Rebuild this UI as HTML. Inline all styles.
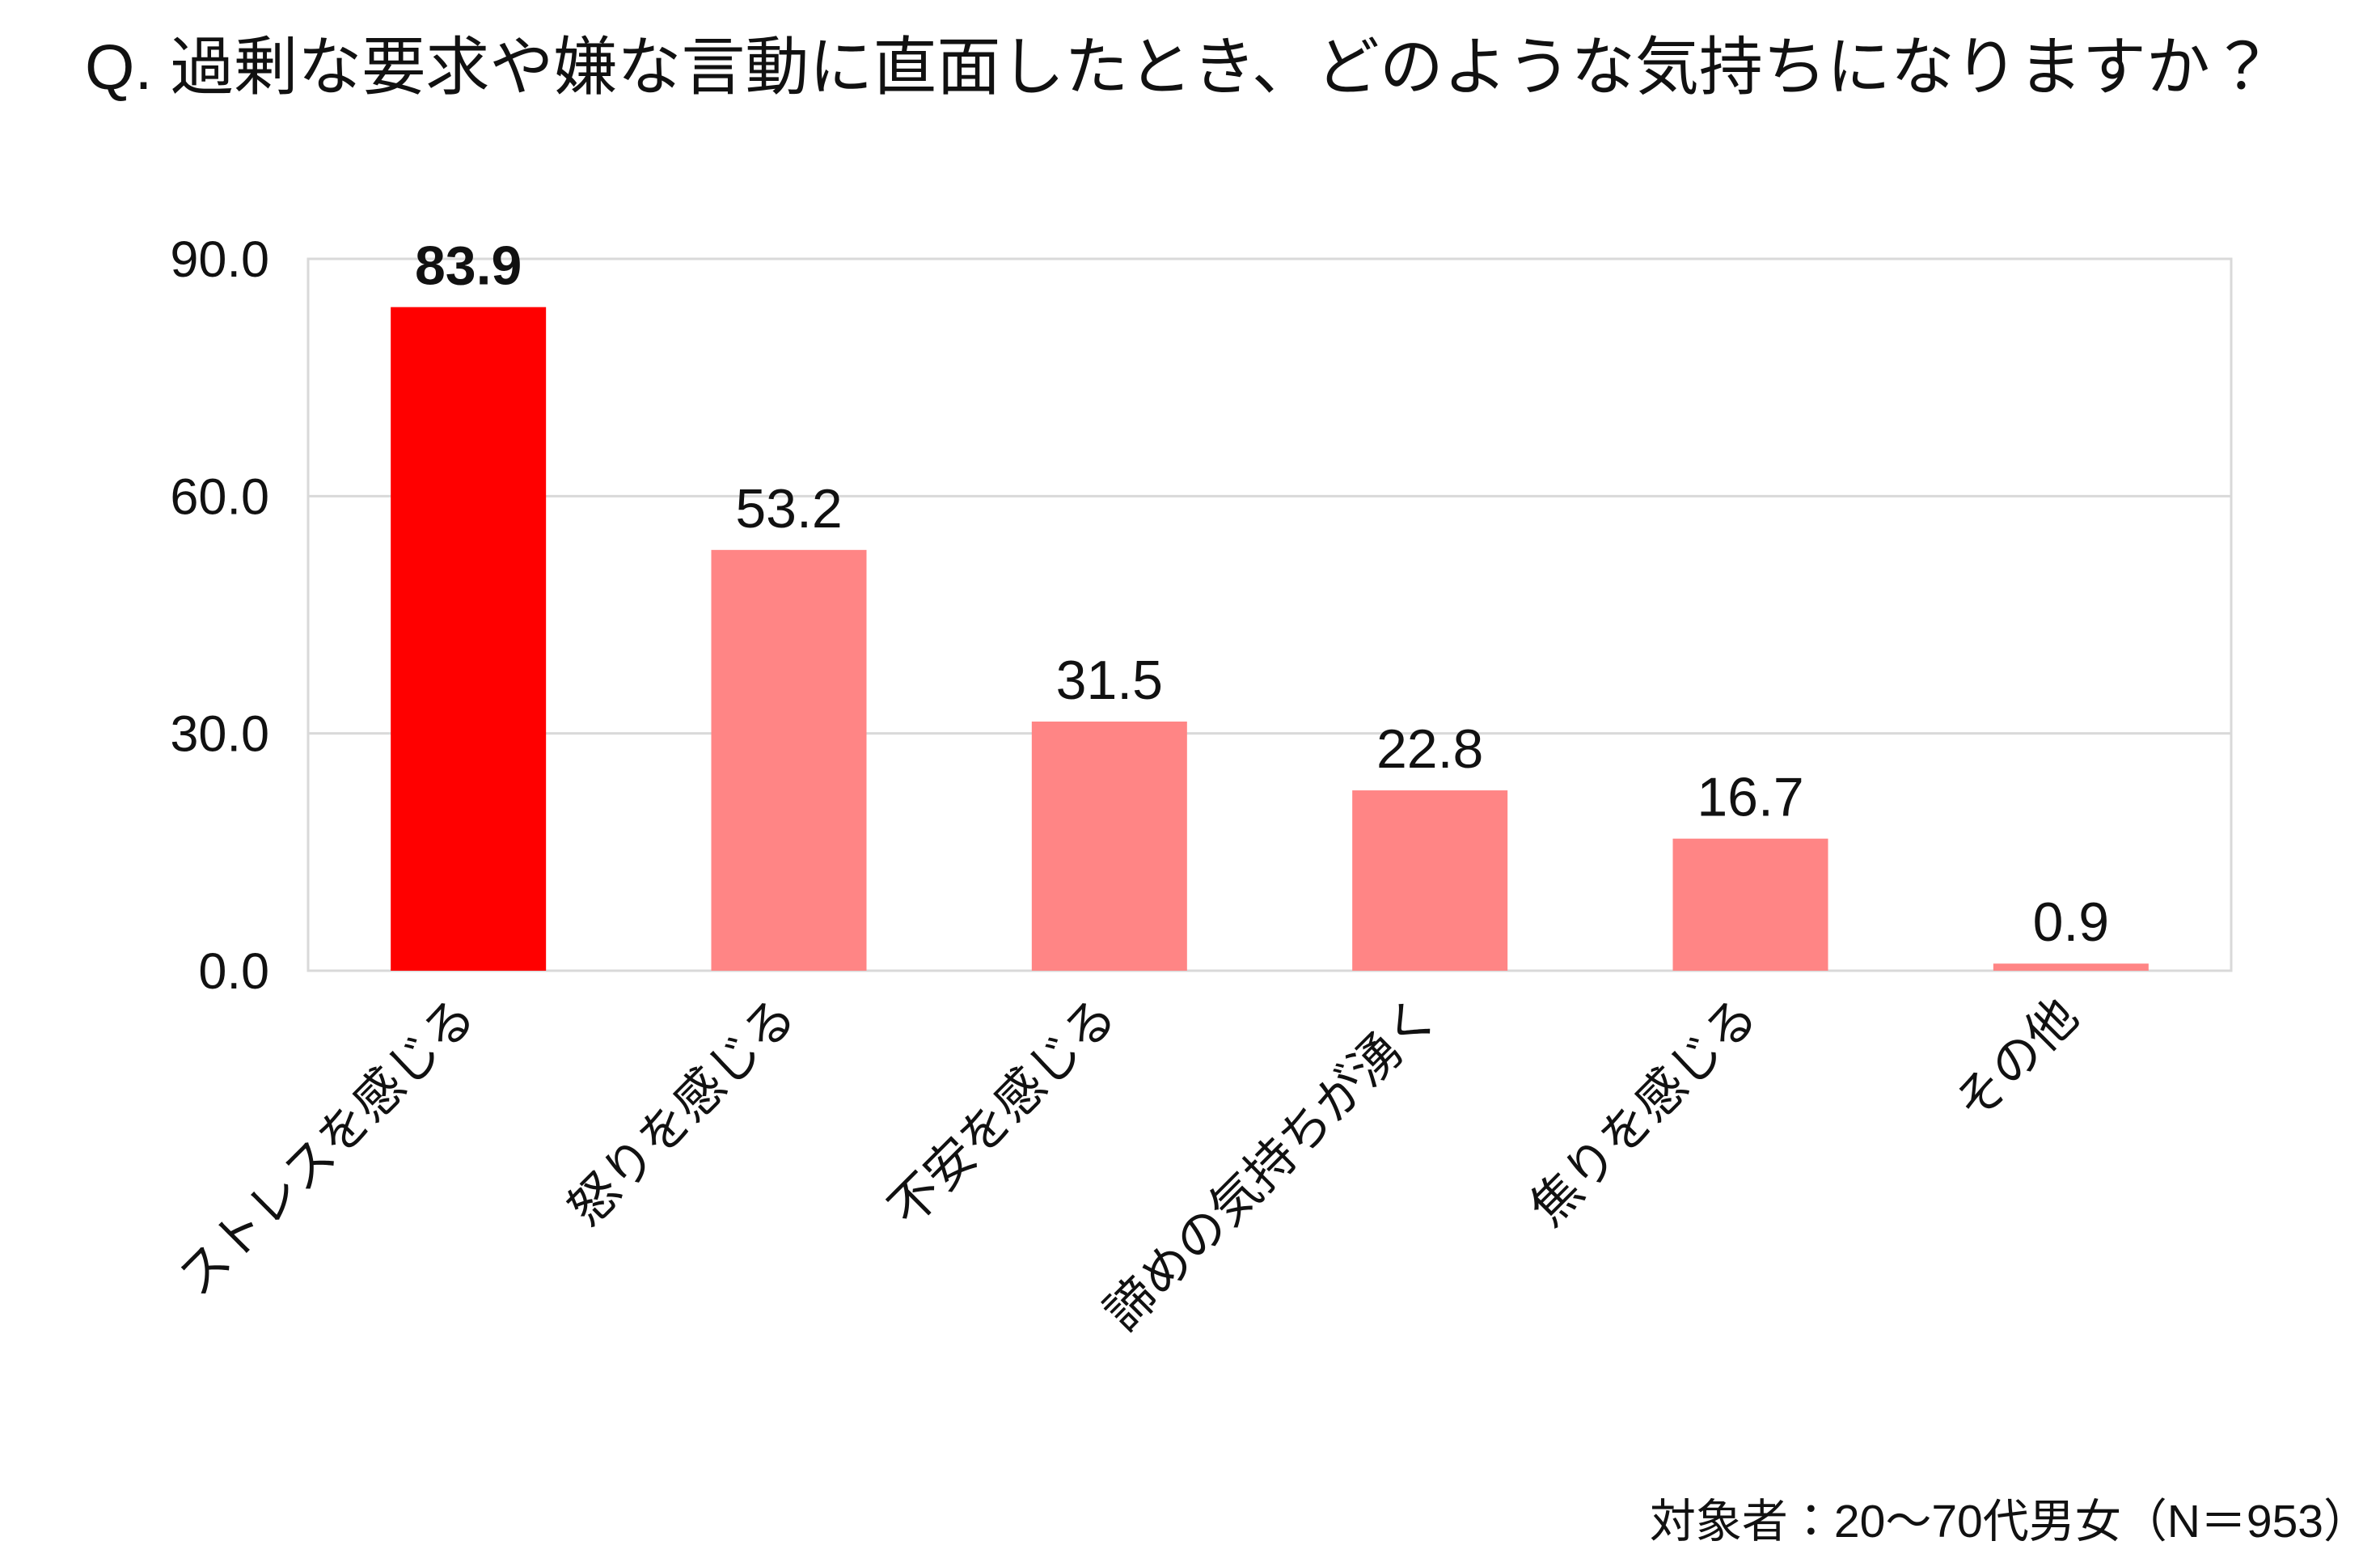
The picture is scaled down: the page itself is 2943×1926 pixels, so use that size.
<!DOCTYPE html>
<html><head><meta charset="utf-8">
<style>
html,body{margin:0;padding:0;background:#fff;}
svg{display:block;font-family:"Liberation Sans","Noto Sans CJK JP",sans-serif;}
</style></head>
<body>
<svg width="2943" height="1926" viewBox="0 0 2943 1926" xmlns="http://www.w3.org/2000/svg">
<text x="105" y="110" font-size="79" fill="#111">Q. 過剰な要求や嫌な言動に直面したとき、どのような気持ちになりますか？</text>
<g id="grid"></g>
<g id="bars"></g>
<g id="labels"></g>
<text x="2930" y="1900" font-size="57" text-anchor="end" fill="#111">対象者：20～70代男女（N＝953）</text>
</svg>
<script>
const categories = ["ストレスを感じる","怒りを感じる","不安を感じる","諦めの気持ちが湧く","焦りを感じる","その他"];
const values = [83.9, 53.2, 31.5, 22.8, 16.7, 0.9];
const ticks = [0, 30, 60, 90];
const NS = "http://www.w3.org/2000/svg";
const L = 381, R = 2759, Y0 = 1200, Y90 = 320, MAX = 90;
const y = v => Y0 - (v / MAX) * (Y0 - Y90);
const step = (R - L) / categories.length;
const xc = i => L + step * (i + 0.5);
const bw = 192;
function mk(tag, attrs, parent) { const e = document.createElementNS(NS, tag); for (const k in attrs) e.setAttribute(k, attrs[k]); parent.appendChild(e); return e; }
const grid = document.getElementById("grid"), bars = document.getElementById("bars"), labels = document.getElementById("labels");
const frame = mk("rect", {x: L, y: Y90, width: R - L, height: Y0 - Y90, fill: "none", stroke: "#d9d9d9", "stroke-width": 3}, grid);


ticks.forEach(t => {
  const ln = mk("line", {x1: L, x2: R, y1: y(t), y2: y(t), stroke: "#d9d9d9", "stroke-width": 3}, grid);
  
  
  const tx = mk("text", {x: L - 48, y: y(t) + 22, "font-size": 63, "text-anchor": "end", fill: "#111"}, labels);
  tx.textContent = t.toFixed(1);
  
  
});
categories.forEach((c, i) => {
  const v = values[i];
  const r = mk("rect", {x: xc(i) - bw / 2, y: y(v), width: bw, height: Y0 - y(v), fill: i === 0 ? "#ff0000" : "#ff8585"}, bars);
  
  
  const vt = mk("text", {x: xc(i), y: y(v) - 28, "font-size": 68, "text-anchor": "middle", fill: "#111", "font-weight": i === 0 ? "bold" : "normal"}, labels);
  vt.textContent = v.toFixed(1);
  
  
  const cx = xc(i) + 12, cy = 1260;
  const ct = mk("text", {x: cx, y: cy, "font-size": 61, "text-anchor": "end", fill: "#111", transform: "rotate(-45 " + cx + " " + cy + ")"}, labels);
  ct.textContent = c;
  
  
});
</script>
</body></html>
